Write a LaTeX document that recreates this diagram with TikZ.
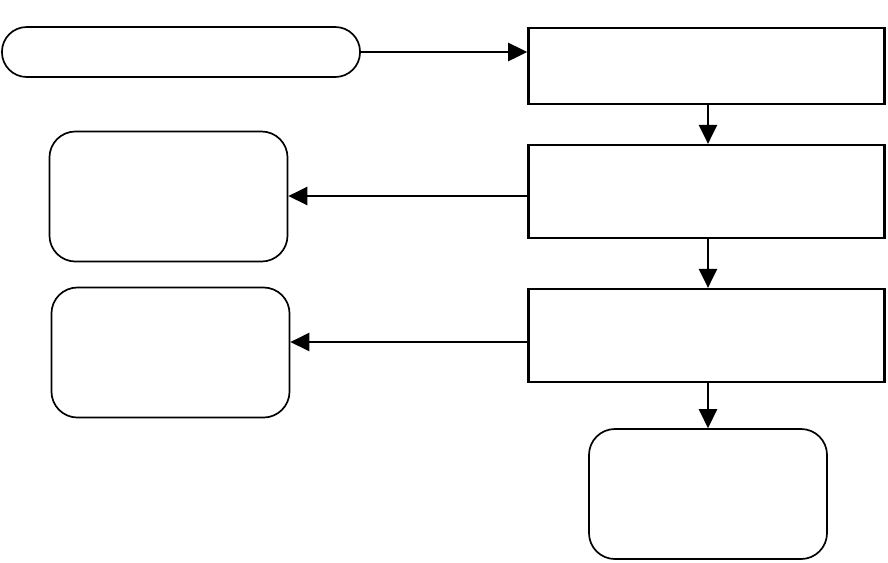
\documentclass[tikz,border=0pt]{standalone}
\usetikzlibrary{arrows.meta}

\tikzset{
  stepbox/.style={draw,line width=1.8pt,minimum width=8.9cm,inner sep=0pt},
  roundbox/.style={draw,line width=1.2pt,rounded corners=0.65cm,minimum width=5.95cm,minimum height=3.25cm,inner sep=0pt},
  flow/.style={->,line width=1.2pt}
}

\begin{document}
\begin{tikzpicture}[x=0.025cm,y=-0.025cm,>={Triangle[length=13.5pt,width=13pt]}]
        \useasboundingbox (0,0) rectangle (888,562);

        % start pill
        \node[draw,line width=1.2pt,rounded corners=0.62cm,minimum width=8.95cm,minimum height=1.25cm,inner sep=0pt] (start) at (181,52) {};

        % main column
        \node[stepbox,minimum height=1.9cm] (stepa) at (706.5,66) {};
        \node[stepbox,minimum height=2.32cm] (stepb) at (706.5,191.5) {};
        \node[stepbox,minimum height=2.32cm] (stepc) at (706.5,335.5) {};

        % side and end boxes
        \node[roundbox] (outa) at (168.5,196.5) {};
        \node[roundbox] (outb) at (170.5,352.5) {};
        \node[roundbox] (outc) at (708,494) {};

        \coordinate (rowb) at (0,196);
        \coordinate (rowc) at (0,342);

        % connectors
        \draw[flow] (start.east) -- (start.east -| stepa.west);
        \draw[flow] (stepa.south -| outc.north) -- (stepb.north -| outc.north);
        \draw[flow] (stepb.south -| outc.north) -- (stepc.north -| outc.north);
        \draw[flow] (stepc.south -| outc.north) -- (outc.north);
        \draw[flow] (stepb.west |- rowb) -- (outa.east |- rowb);
        \draw[flow] (stepc.west |- rowc) -- (outb.east |- rowc);
\end{tikzpicture}
\end{document}
